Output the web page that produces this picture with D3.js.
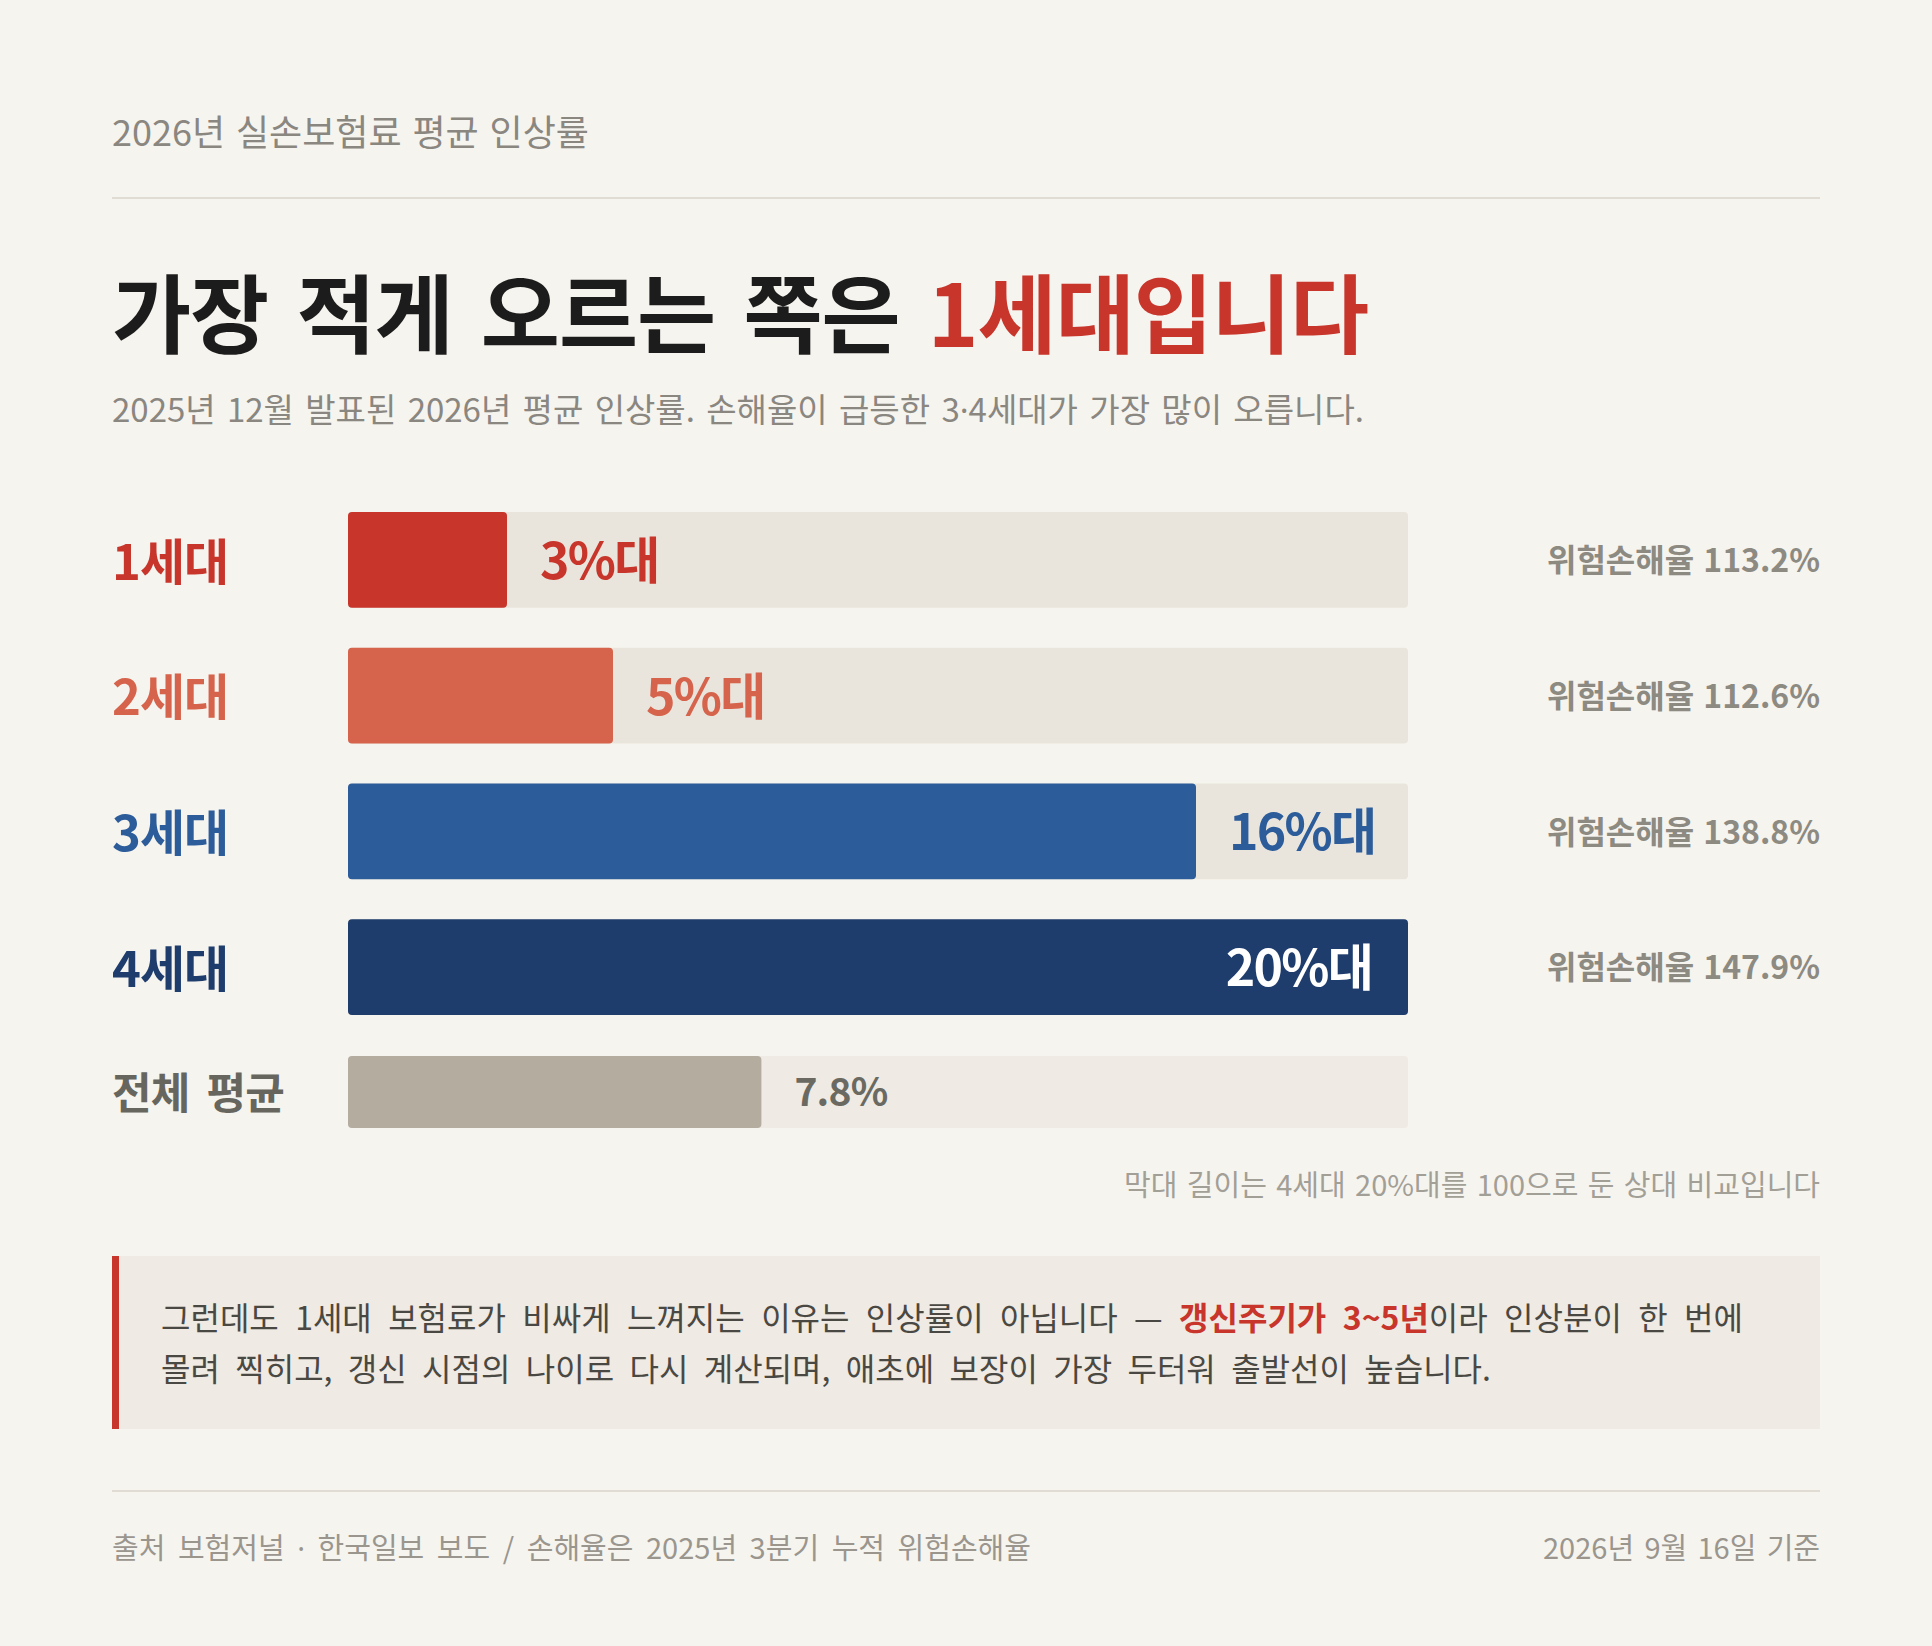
<!DOCTYPE html>
<html>
<head>
<meta charset="utf-8">
<script src="https://cdn.jsdelivr.net/npm/d3@7"></script>
<style>
  html, body { margin: 0; padding: 0; background: #f6f4ef; }
  svg { display: block; font-family: "Noto Sans CJK KR", "Noto Sans", sans-serif; }
</style>
</head>
<body>
<div id="chart"></div>
<script>
//---------------------------------- Data ----------------------------------

var generations = ["1세대", "2세대", "3세대", "4세대"];
var rateValues = [3, 5, 16, 20];
var rateLabels = ["3%대", "5%대", "16%대", "20%대"];
var lossRatios = [113.2, 112.6, 138.8, 147.9];
var barColors = ["#c8352b", "#d6634b", "#2c5c9a", "#1e3d6d"];

var avgLabel = "전체 평균";
var avgValue = 7.8;
var scaleMax = 20; // 4세대 20%대 = 100

var kicker = "2026년 실손보험료 평균 인상률";
var headline = "가장 적게 오르는 쪽은 ";
var headlineAccent = "1세대입니다";
var subtitle = "2025년 12월 발표된 2026년 평균 인상률. 손해율이 급등한 3·4세대가 가장 많이 오릅니다.";
var footnote = "막대 길이는 4세대 20%대를 100으로 둔 상대 비교입니다";
var calloutLines = [
	[{t: "그런데도 1세대 보험료가 비싸게 느껴지는 이유는 인상률이 아닙니다 — "}, {t: "갱신주기가 3~5년", hi: true}, {t: "이라 인상분이 한 번에"}],
	[{t: "몰려 찍히고, 갱신 시점의 나이로 다시 계산되며, 애초에 보장이 가장 두터워 출발선이 높습니다."}]
];
var sourceText = "출처 보험저널 · 한국일보 보도 / 손해율은 2025년 3분기 누적 위험손해율";
var dateText = "2026년 9월 16일 기준";

//---------------------------------- Layout ----------------------------------

var W = 1932, H = 1646;
var left = 112, right = 1820;
var trackX = 348, trackW = 1060;
var accent = "#c8352b";

var svg = d3.select("#chart").append("svg")
	.attr("width", W)
	.attr("height", H);

svg.append("rect").attr("width", W).attr("height", H).attr("fill", "#f6f4ef");

//Put the text in, with the middle dot taken from the latin font (narrow, like the original)
function addText(sel, str) {
	str.split("·").forEach(function(part, i) {
		if (i > 0) sel.append("tspan").attr("font-family", "Noto Sans").text("·");
		sel.append("tspan").text(part);
	});
	return sel;
}

//Nudge the gaps between words so the line gets the width of the original
function fitWords(sel, target) {
	sel.attr("word-spacing", 0);
	var len = sel.node().getComputedTextLength();
	var n = (sel.text().match(/ /g) || []).length;
	if (n > 0) sel.attr("word-spacing", ((target - len) / n).toFixed(2));
	return sel;
}

//---------------------------------- Titles ----------------------------------

var kick = svg.append("text")
	.attr("x", left).attr("y", 146)
	.attr("font-size", 36)
	.attr("fill", "#8a8680");
addText(kick, kicker);
fitWords(kick, 477);

svg.append("line")
	.attr("x1", left).attr("x2", right)
	.attr("y1", 198).attr("y2", 198)
	.attr("stroke", "#e0dbd3").attr("stroke-width", 2);

var head = svg.append("text")
	.attr("x", left).attr("y", 347)
	.attr("font-size", 86).attr("font-weight", 700)
	.attr("letter-spacing", "-0.012em")
	.attr("fill", "#1c1c1c");
head.append("tspan").text(headline);
head.append("tspan").attr("fill", accent).text(headlineAccent);
fitWords(head, 1256);

var sub = svg.append("text")
	.attr("x", left).attr("y", 422)
	.attr("font-size", 33)
	.attr("fill", "#8a8680");
addText(sub, subtitle);
fitWords(sub, 1252);

//---------------------------------- Scales ----------------------------------

var x = d3.scaleLinear()
	.domain([0, scaleMax])
	.range([0, trackW]);

var y = d3.scaleBand()
	.domain(generations)
	.range([512, 1015])
	.paddingInner(40 / 136)
	.paddingOuter(0);

//---------------------------------- Bars ----------------------------------

var rows = svg.selectAll(".genRow")
	.data(generations)
	.enter().append("g")
	.attr("class", "genRow")
	.attr("transform", function(d) { return "translate(0," + y(d) + ")"; });

var bh = y.bandwidth();

rows.append("rect")
	.attr("x", trackX).attr("width", trackW)
	.attr("height", bh).attr("rx", 4)
	.attr("fill", "#eae5dc");

rows.append("rect")
	.attr("x", trackX)
	.attr("width", function(d, i) { return x(rateValues[i]); })
	.attr("height", bh).attr("rx", 4)
	.attr("fill", function(d, i) { return barColors[i]; });

//generation labels
rows.append("text")
	.attr("x", left).attr("y", bh / 2).attr("dy", "0.4em")
	.attr("font-size", 49).attr("font-weight", 700)
	.attr("letter-spacing", "-0.02em")
	.attr("fill", function(d, i) { return barColors[i]; })
	.text(function(d) { return d; });

//value labels: inside the bar when it fills the track, otherwise just after it
rows.append("text")
	.attr("x", function(d, i) {
		var end = trackX + x(rateValues[i]);
		return rateValues[i] >= scaleMax ? end - 36 : end + 33;
	})
	.attr("text-anchor", function(d, i) { return rateValues[i] >= scaleMax ? "end" : "start"; })
	.attr("y", bh / 2).attr("dy", "0.38em")
	.attr("font-size", 50).attr("font-weight", 700)
	.attr("letter-spacing", "-0.035em")
	.attr("fill", function(d, i) { return rateValues[i] >= scaleMax ? "#ffffff" : barColors[i]; })
	.text(function(d, i) { return rateLabels[i]; });

//loss ratio on the right
rows.append("text")
	.attr("x", right).attr("text-anchor", "end")
	.attr("y", bh / 2).attr("dy", "0.38em")
	.attr("font-size", 32).attr("font-weight", 700)
	.attr("fill", "#8d8a82")
	.text(function(d, i) { return "위험손해율 " + d3.format(".1f")(lossRatios[i]) + "%"; })
	.each(function() { fitWords(d3.select(this), 273); });

//average row
var avgTop = 1056, avgH = 72;
var avg = svg.append("g").attr("transform", "translate(0," + avgTop + ")");

avg.append("rect")
	.attr("x", trackX).attr("width", trackW)
	.attr("height", avgH).attr("rx", 4)
	.attr("fill", "#efebe4");
avg.append("rect")
	.attr("x", trackX).attr("width", x(avgValue))
	.attr("height", avgH).attr("rx", 4)
	.attr("fill", "#b3ac9f");
var avgName = avg.append("text")
	.attr("x", left).attr("y", avgH / 2).attr("dy", "0.4em")
	.attr("font-size", 43).attr("font-weight", 700)
	.attr("letter-spacing", "-0.02em")
	.attr("fill", "#67665e")
	.text(avgLabel);
fitWords(avgName, 172);
avg.append("text")
	.attr("x", trackX + x(avgValue) + 33).attr("y", avgH / 2).attr("dy", "0.37em")
	.attr("font-size", 39).attr("font-weight", 600)
	.attr("letter-spacing", "-0.02em")
	.attr("fill", "#6b6a62")
	.text(avgValue + "%");

var note = svg.append("text")
	.attr("x", right).attr("y", 1196)
	.attr("text-anchor", "end")
	.attr("font-size", 29)
	.attr("fill", "#a29f97")
	.text(footnote);
fitWords(note, 696);

//---------------------------------- Callout ----------------------------------

svg.append("rect")
	.attr("x", left).attr("y", 1256)
	.attr("width", right - left).attr("height", 173)
	.attr("fill", "#efeae3");
svg.append("rect")
	.attr("x", left).attr("y", 1256)
	.attr("width", 7).attr("height", 173)
	.attr("fill", accent);

var calloutWidths = [1582, 1330];
calloutLines.forEach(function(line, i) {
	var t = svg.append("text")
		.attr("x", 161).attr("y", 1330 + i * 51)
		.attr("font-size", 32)
		.attr("fill", "#4a4842");
	line.forEach(function(seg) {
		var s = t.append("tspan").text(seg.t);
		if (seg.hi) s.attr("fill", accent).attr("font-weight", 700);
	});
	fitWords(t, calloutWidths[i]);
});

//---------------------------------- Footer ----------------------------------

svg.append("line")
	.attr("x1", left).attr("x2", right)
	.attr("y1", 1491).attr("y2", 1491)
	.attr("stroke", "#e0dbd3").attr("stroke-width", 2);

var src = svg.append("text")
	.attr("x", left).attr("y", 1559)
	.attr("font-size", 29)
	.attr("fill", "#9a968e");
addText(src, sourceText);
fitWords(src, 919);

var dt = svg.append("text")
	.attr("x", right).attr("y", 1559)
	.attr("text-anchor", "end")
	.attr("font-size", 29)
	.attr("fill", "#9a968e")
	.text(dateText);
fitWords(dt, 277);
</script>
</body>
</html>
